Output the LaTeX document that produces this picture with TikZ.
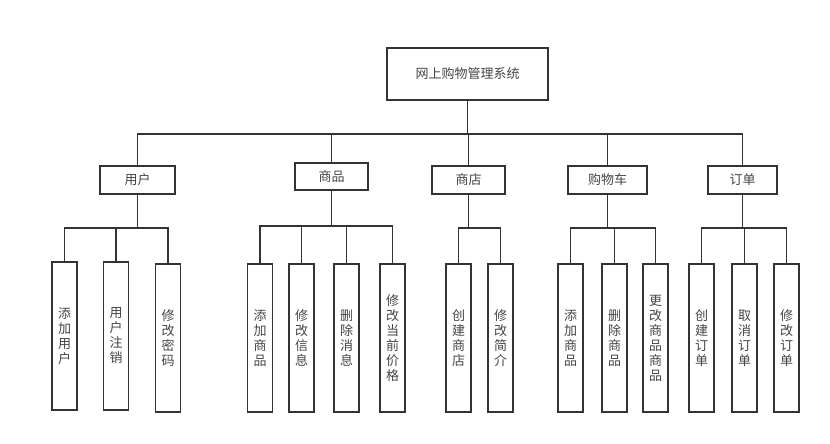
\documentclass[tikz,border=0pt]{standalone}
\usepackage{fontspec}
\setmainfont{Noto Sans CJK SC}
\begin{document}
\begin{tikzpicture}[x=1pt, y=-1pt,
    box/.style={draw=lineColour, line width=1.4pt, inner sep=0pt, text=textColour,
        font=\fontsize{13}{15}\selectfont},
    leaf/.style={box, minimum width=25pt, minimum height=148pt, align=center},
    link/.style={draw=lineColour, line width=1.4pt}]
    \definecolor{lineColour}{HTML}{333333}
    \definecolor{textColour}{HTML}{444444}

    \useasboundingbox (0,0) rectangle (830,444);

    % root and first level
    \node[box, minimum width=161pt, minimum height=52pt] (root) at (467.5,74) {网上购物管理系统};
    \coordinate (root-bus) at (467.5,134);

    \node[box, minimum width=75pt, minimum height=28pt] (user) at (137.5,180) {用户};
    \node[box, minimum width=73pt, minimum height=27pt] (goods) at (331.5,176.5) {商品};
    \node[box, minimum width=73pt, minimum height=28pt] (shop) at (468.5,180) {商店};
    \node[box, minimum width=79pt, minimum height=28pt] (cart) at (607.5,180) {购物车};
    \node[box, minimum width=69pt, minimum height=28pt] (order) at (742.5,180) {订单};

    \foreach \p in {user,goods,shop,cart,order}
        \draw[link] (root.south) -- (root-bus) -| (\p.north);

    \coordinate (user-bus) at (137.5,228);
    \coordinate (goods-bus) at (331.5,226);
    \coordinate (shop-bus) at (468.5,228);
    \coordinate (cart-bus) at (607.5,228);
    \coordinate (order-bus) at (742.5,228);

    % second level
    \foreach \p/\n/\x/\y/\t in {
        user/ua/64.5/336/{添\\加\\用\\户},
        user/ub/116/336/{用\\户\\注\\销},
        user/uc/168/338/{修\\改\\密\\码},
        goods/ga/260/338/{添\\加\\商\\品},
        goods/gb/301.5/338/{修\\改\\信\\息},
        goods/gc/346.5/338/{删\\除\\消\\息},
        goods/gd/392.5/338/{修\\改\\当\\前\\价\\格},
        shop/sa/458.5/338/{创\\建\\商\\店},
        shop/sb/500.5/338/{修\\改\\简\\介},
        cart/ca/570.5/338/{添\\加\\商\\品},
        cart/cb/614.5/338/{删\\除\\商\\品},
        cart/cc/655.5/338/{更\\改\\商\\品\\商\\品},
        order/oa/701.5/338/{创\\建\\订\\单},
        order/ob/744.5/338/{取\\消\\订\\单},
        order/oc/786.5/338/{修\\改\\订\\单}}
    {
        \node[leaf] (\n) at (\x,\y) {\t};
        \draw[link] (\p.south) -- (\p-bus) -| (\n.north);
    }

\end{tikzpicture}
\end{document}
